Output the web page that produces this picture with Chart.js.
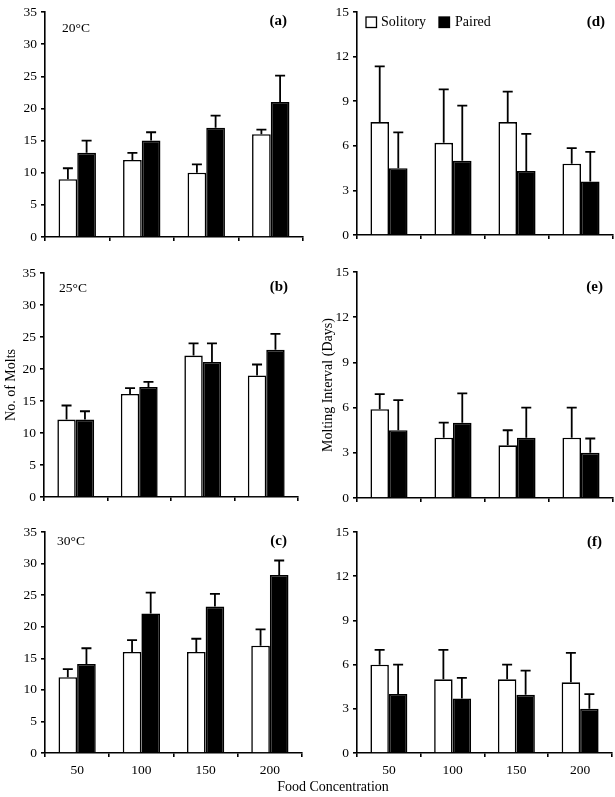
<!DOCTYPE html>
<html><head><meta charset="utf-8">
<script src="https://cdn.jsdelivr.net/npm/chart.js@4.4.1/dist/chart.umd.min.js"></script>
<style>
html,body{margin:0;padding:0;background:#fff;}
body{width:615px;height:797px;position:relative;overflow:hidden;}
canvas{position:absolute;}
#xtitle{position:absolute;left:233px;width:200px;top:778px;text-align:center;font:14px 'Liberation Serif','Times New Roman',serif;color:#000;line-height:18px;}
</style></head><body>
<canvas id="ca" width="310" height="260" style="left:0;top:0"></canvas>
<canvas id="cb" width="310" height="260" style="left:0;top:260px"></canvas>
<canvas id="cc" width="310" height="277" style="left:0;top:520px"></canvas>
<canvas id="cd" width="305" height="260" style="left:310px;top:0"></canvas>
<canvas id="ce" width="305" height="260" style="left:310px;top:260px"></canvas>
<canvas id="cf" width="305" height="277" style="left:310px;top:520px"></canvas>
<div id="xtitle">Food Concentration</div>
<script>
// ---- data ----
const foodLevels = ['50', '100', '150', '200'];
const seriesNames = ['Solitory', 'Paired'];
const panelLetters = ['(a)', '(b)', '(c)', '(d)', '(e)', '(f)'];
const temperatures = ['20°C', '25°C', '30°C'];
const yTitleMolts = 'No. of Molts';
const yTitleInterval = 'Molting Interval (Days)';
const moltTicksMax = 35, moltTickStep = 5;
const intervalTicksMax = 15, intervalTickStep = 3;

// No. of molts (mean and top of error bar)
const molts20Sol = [9, 12, 10, 16];
const molts20SolTop = [10.7, 13.1, 11.3, 16.7];
const molts20Pair = [13.1, 15, 17, 21];
const molts20PairTop = [15, 16.3, 18.9, 25.1];

const molts25Sol = [12.1, 16.1, 22.1, 19];
const molts25SolTop = [14.3, 17, 24, 20.7];
const molts25Pair = [12.1, 17.2, 21.1, 23];
const molts25PairTop = [13.4, 18, 24, 25.5];

const molts30Sol = [12, 16, 16, 17];
const molts30SolTop = [13.3, 17.9, 18.1, 19.6];
const molts30Pair = [14.1, 22.1, 23.2, 28.2];
const molts30PairTop = [16.6, 25.4, 25.2, 30.5];

// Molting interval (days)
const interval20Sol = [7.6, 6.2, 7.6, 4.8];
const interval20SolTop = [11.35, 9.8, 9.65, 5.85];
const interval20Pair = [4.5, 5.0, 4.3, 3.6];
const interval20PairTop = [6.9, 8.7, 6.8, 5.6];

const interval25Sol = [5.9, 4.0, 3.5, 4.0];
const interval25SolTop = [6.9, 5.0, 4.5, 6.0];
const interval25Pair = [4.5, 5.0, 4.0, 3.0];
const interval25PairTop = [6.5, 6.95, 6.0, 3.95];

const interval30Sol = [6.0, 5.0, 5.0, 4.8];
const interval30SolTop = [7.0, 7.0, 6.0, 6.8];
const interval30Pair = [4.0, 3.7, 3.95, 3.0];
const interval30PairTop = [6.0, 5.1, 5.6, 4.0];

// ---- drawing ----
const SERIF = "'Liberation Serif','Times New Roman',serif";

const errBarPlugin = {
  id: 'errBars',
  afterDatasetsDraw(chart) {
    const ctx = chart.ctx, ys = chart.scales.y;
    chart.data.datasets.forEach((ds, di) => {
      const meta = chart.getDatasetMeta(di);
      meta.data.forEach((bar, i) => {
        const top = ys.getPixelForValue(ds.errTop[i]);
        ctx.save();
        ctx.strokeStyle = '#000';
        ctx.lineWidth = 1.8;
        ctx.beginPath();
        ctx.moveTo(bar.x, bar.y);
        ctx.lineTo(bar.x, top);
        ctx.moveTo(bar.x - 5, top);
        ctx.lineTo(bar.x + 5, top);
        ctx.stroke();
        ctx.restore();
      });
    });
  }
};

const panelTextPlugin = {
  id: 'panelText',
  afterDraw(chart, args, o) {
    const ctx = chart.ctx;
    ctx.save();
    ctx.fillStyle = '#000';
    ctx.textBaseline = 'middle';
    if (o.letter) {
      ctx.font = 'bold 15px ' + SERIF;
      ctx.textAlign = 'right';
      ctx.fillText(o.letter, o.letterX, o.letterY);
    }
    if (o.temp) {
      ctx.font = '13.5px ' + SERIF;
      ctx.textAlign = 'left';
      ctx.fillText(o.temp, o.tempX, o.tempY);
    }
    if (o.legend) {
      ctx.font = '14px ' + SERIF;
      ctx.textAlign = 'left';
      chart.data.datasets.forEach((ds, i) => {
        const L = o.legend[i];
        ctx.fillStyle = ds.backgroundColor;
        ctx.fillRect(L.bx, L.by, 10.5, 10.5);
        ctx.strokeStyle = '#000';
        ctx.lineWidth = 1.3;
        ctx.strokeRect(L.bx, L.by, 10.5, 10.5);
        ctx.fillStyle = '#000';
        ctx.fillText(ds.label, L.tx, L.by + 5.5);
      });
    }
    ctx.restore();
  }
};

function makePanel(id, w, h, area, yMax, yStep, sol, solTop, pair, pairTop, showX, yTitle, text) {
  const axisGrid = { display: true, drawOnChartArea: false, drawTicks: true, tickLength: 4, color: '#000', lineWidth: 1.6 };
  const axisBorder = { display: true, color: '#000', width: 1.6 };
  new Chart(document.getElementById(id), {
    type: 'bar',
    data: {
      labels: foodLevels,
      datasets: [
        { label: seriesNames[0], data: sol, errTop: solTop, backgroundColor: '#ffffff', borderColor: '#000', borderWidth: 1.6,
          barPercentage: 1, categoryPercentage: 0.58 },
        { label: seriesNames[1], data: pair, errTop: pairTop, backgroundColor: '#000000', borderColor: '#000', borderWidth: 1.6,
          barPercentage: 1, categoryPercentage: 0.58 }
      ]
    },
    options: {
      responsive: false,
      animation: false,
      events: [],
      layout: { padding: { top: area.top, right: w - area.right, left: 0, bottom: 0 } },
      plugins: { legend: { display: false }, tooltip: { enabled: false }, panelText: text },
      scales: {
        x: {
          offset: true,
          grid: Object.assign({ offset: true }, axisGrid),
          border: axisBorder,
          ticks: { display: showX, color: '#000', font: { family: SERIF, size: 13.5 }, padding: 5, maxRotation: 0 },
          afterFit(s) { s.height = h - area.bottom; }
        },
        y: {
          min: 0, max: yMax,
          grid: axisGrid,
          border: axisBorder,
          ticks: { stepSize: yStep, color: '#000', font: { family: SERIF, size: 13.5 }, padding: 4 },
          title: yTitle ? { display: true, text: yTitle.text, color: '#000', font: { family: SERIF, size: 14 }, padding: { top: yTitle.pad, bottom: 0 } } : { display: false },
          afterFit(s) { s.width = area.left; }
        }
      }
    },
    plugins: [errBarPlugin, panelTextPlugin]
  });
}

makePanel('ca', 310, 260, { left: 45, top: 11, right: 303, bottom: 237 }, moltTicksMax, moltTickStep,
  molts20Sol, molts20SolTop, molts20Pair, molts20PairTop, false, null,
  { letter: panelLetters[0], letterX: 287, letterY: 21, temp: temperatures[0], tempX: 62, tempY: 28 });
makePanel('cb', 310, 260, { left: 44, top: 13, right: 298, bottom: 237 }, moltTicksMax, moltTickStep,
  molts25Sol, molts25SolTop, molts25Pair, molts25PairTop, false, { text: yTitleMolts, pad: 3 },
  { letter: panelLetters[1], letterX: 288, letterY: 27, temp: temperatures[1], tempX: 59, tempY: 28 });
makePanel('cc', 310, 277, { left: 45, top: 11, right: 302, bottom: 233 }, moltTicksMax, moltTickStep,
  molts30Sol, molts30SolTop, molts30Pair, molts30PairTop, true, null,
  { letter: panelLetters[2], letterX: 287, letterY: 21, temp: temperatures[2], tempX: 57, tempY: 21 });
makePanel('cd', 305, 260, { left: 47, top: 11, right: 303, bottom: 235 }, intervalTicksMax, intervalTickStep,
  interval20Sol, interval20SolTop, interval20Pair, interval20PairTop, false, null,
  { letter: panelLetters[3], letterX: 295, letterY: 22,
    legend: [{ bx: 56, by: 17, tx: 71 }, { bx: 129, by: 17, tx: 145 }] });
makePanel('ce', 305, 260, { left: 47, top: 11, right: 303, bottom: 238 }, intervalTicksMax, intervalTickStep,
  interval25Sol, interval25SolTop, interval25Pair, interval25PairTop, false, { text: yTitleInterval, pad: 10 },
  { letter: panelLetters[4], letterX: 293, letterY: 27 });
makePanel('cf', 305, 277, { left: 47, top: 9, right: 302, bottom: 233 }, intervalTicksMax, intervalTickStep,
  interval30Sol, interval30SolTop, interval30Pair, interval30PairTop, true, null,
  { letter: panelLetters[5], letterX: 292, letterY: 22 });
</script>
</body></html>
